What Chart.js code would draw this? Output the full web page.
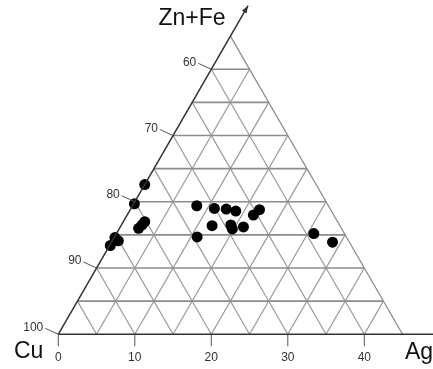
<!DOCTYPE html>
<html>
<head>
<meta charset="utf-8">
<script src="https://cdn.jsdelivr.net/npm/chart.js@4"></script>
<style>
  body { margin: 0; background: #fff; }
  canvas { display: block; }
</style>
</head>
<body>
<canvas id="ternChart" width="433" height="369"></canvas>
<script>
// samples, in percent (Cu = 100 - Ag - ZnFe)
const agValues = [0.0, 0.1, 2.8, 2.5, 2.7, 0.1, 0.8, 0.1, 8.4, 10.9, 12.5, 13.9, 16.5, 16.9, 11.9, 14.3, 14.8, 16.1, 10.8, 25.8, 28.9];
const znfeValues = [22.6, 19.7, 17.0, 16.0, 16.5, 14.6, 14.1, 13.4, 19.4, 19.0, 18.9, 18.6, 18.0, 18.8, 16.4, 16.5, 15.9, 16.2, 14.7, 15.2, 13.9];

const agTicks = [0, 10, 20, 30, 40];
const cuTicks = [100, 90, 80, 70, 60];
const gridSteps = [5, 10, 15, 20, 25, 30, 35, 40];
const gridMax = 45;

const H = Math.sqrt(3) / 2;
function tern(ag, znfe) {
  return { x: ag + znfe / 2, y: znfe * H };
}

function lineSet(a, b, color, width) {
  return {
    type: "line",
    data: [a, b],
    borderColor: color,
    borderWidth: width,
    pointRadius: 0,
    fill: false,
    order: 2,
  };
}

const datasets = [];
gridSteps.forEach((s) => {
  // constant Zn+Fe
  datasets.push(lineSet(tern(0, s), tern(gridMax - s, s), "#8c8c8c", 1.6));
  // constant Ag
  datasets.push(lineSet(tern(s, 0), tern(s, gridMax - s), "#999", 1.2));
  // constant Cu
  datasets.push(lineSet(tern(s, 0), tern(0, s), "#999", 1.2));
});
datasets.push(lineSet(tern(gridMax, 0), tern(0, gridMax), "#888", 1.2));

datasets.push({
  type: "scatter",
  data: agValues.map((ag, i) => tern(ag, znfeValues[i])),
  backgroundColor: "#000",
  borderWidth: 0,
  pointRadius: 5.5,
  order: 0,
});

const ternAxes = {
  id: "ternAxes",
  afterDatasetsDraw(chart) {
    const ctx = chart.ctx;
    const sx = chart.scales.x;
    const sy = chart.scales.y;
    const px = (p) => ({ x: sx.getPixelForValue(p.x), y: sy.getPixelForValue(p.y) });
    const o = px(tern(0, 0));
    const tip = px(tern(0, 49.6));

    ctx.save();
    ctx.strokeStyle = "#333";
    ctx.fillStyle = "#333";
    ctx.lineWidth = 1.5;
    // base axis
    ctx.beginPath();
    ctx.moveTo(o.x, o.y);
    ctx.lineTo(chart.chartArea.right, o.y);
    ctx.stroke();
    // left axis with arrow
    ctx.beginPath();
    ctx.moveTo(o.x, o.y);
    ctx.lineTo(tip.x, tip.y);
    ctx.stroke();
    const ang = Math.atan2(tip.y - o.y, tip.x - o.x);
    ctx.beginPath();
    ctx.moveTo(tip.x, tip.y);
    ctx.lineTo(tip.x - 8 * Math.cos(ang - 0.35), tip.y - 8 * Math.sin(ang - 0.35));
    ctx.lineTo(tip.x - 8 * Math.cos(ang + 0.35), tip.y - 8 * Math.sin(ang + 0.35));
    ctx.closePath();
    ctx.fill();

    ctx.font = "12px 'Liberation Sans', Arial, sans-serif";
    ctx.lineWidth = 1;
    ctx.strokeStyle = "#555";
    // Ag ticks
    ctx.textAlign = "center";
    ctx.textBaseline = "middle";
    agTicks.forEach((t) => {
      const p = px(tern(t, 0));
      ctx.beginPath();
      ctx.moveTo(p.x, p.y);
      ctx.lineTo(p.x, p.y + 12);
      ctx.stroke();
      ctx.fillText(String(t), p.x, p.y + 23);
    });
    // Cu ticks on left edge
    ctx.textAlign = "right";
    cuTicks.forEach((c) => {
      const p = px(tern(0, 100 - c));
      ctx.beginPath();
      ctx.moveTo(p.x, p.y);
      ctx.lineTo(p.x - 13, p.y - 6);
      ctx.stroke();
      ctx.fillText(String(c), p.x - 15, p.y - 7);
    });

    ctx.fillStyle = "#111";
    ctx.font = "23px 'Liberation Sans', Arial, sans-serif";
    ctx.textAlign = "center";
    ctx.fillText("Zn+Fe", 192, 19);
    ctx.textAlign = "left";
    ctx.fillText("Cu", 14, 352);
    ctx.fillText("Ag", 405, 353);
    ctx.restore();
  },
};

new Chart(document.getElementById("ternChart").getContext("2d"), {
  type: "scatter",
  data: { datasets: datasets },
  options: {
    responsive: false,
    animation: false,
    devicePixelRatio: 1,
    layout: { padding: 0, autoPadding: false },
    plugins: { legend: { display: false }, tooltip: { enabled: false } },
    scales: {
      x: { type: "linear", display: false, min: -7.62, max: 48.98 },
      y: { type: "linear", display: false, min: -4.54, max: 43.7 },
    },
  },
  plugins: [ternAxes],
});
</script>
</body>
</html>
